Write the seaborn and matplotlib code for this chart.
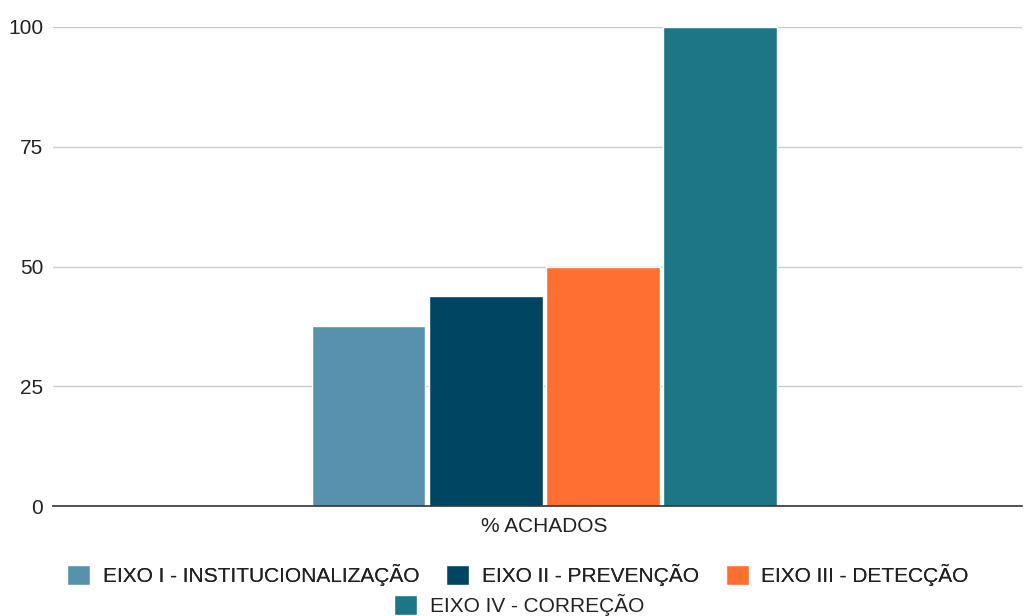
import pandas as pd
import seaborn as sns
import matplotlib.pyplot as plt

# data
grupo = "% ACHADOS"
eixos = ["EIXO I - INSTITUCIONALIZAÇÃO", "EIXO II - PREVENÇÃO",
         "EIXO III - DETECÇÃO", "EIXO IV - CORREÇÃO"]
valores = [37.5, 43.75, 50, 100]
cores = ["#5891ad", "#004561", "#ff6f31", "#1c7685"]
yticks = [0, 25, 50, 75, 100]

data = pd.DataFrame({"grupo": [grupo] * len(eixos), "eixo": eixos, "valor": valores})

sns.set_style("white")
plt.rcParams["font.family"] = ["Liberation Sans", "DejaVu Sans"]

fig = plt.figure(figsize=(10.25, 6.16), dpi=100)
ax = fig.add_axes([53 / 1025, 1 - 506 / 616, 969 / 1025, 479 / 616])

sns.barplot(data=data, x="grupo", y="valor", hue="eixo", palette=cores,
            width=0.484, gap=0.03, saturation=1, ax=ax, legend=True)

ax.set_ylim(0, 100)
ax.set_yticks(yticks)
ax.set_xlim(-0.507, 0.493)
ax.grid(axis="y", color="#cccccc", linewidth=1)
ax.set_axisbelow(True)
for s in ["top", "right", "left"]:
    ax.spines[s].set_visible(False)
ax.spines["bottom"].set_color("#333333")
ax.spines["bottom"].set_linewidth(1.2)
ax.tick_params(axis="y", length=0, labelsize=15, colors="#222222", pad=7)
ax.tick_params(axis="x", length=0, labelsize=15, colors="#222222", pad=8)
ax.set_xlabel("")
ax.set_ylabel("")

# legend: three entries on the first row, the fourth centred below
handles, labels = ax.get_legend_handles_labels()
ax.get_legend().remove()
opts = dict(loc="center", frameon=False, fontsize=15, handlelength=1.1,
            handleheight=1.1, handletextpad=0.6, columnspacing=1.3,
            labelcolor="#222222", borderpad=0)
leg1 = fig.legend(handles[:3], labels[:3], ncol=3,
                  bbox_to_anchor=(518 / 1025, 1 - 575 / 616), **opts)
fig.add_artist(leg1)
fig.legend(handles[3:], labels[3:], ncol=1,
           bbox_to_anchor=(519 / 1025, 1 - 605 / 616), **opts)

fig.savefig("out.png", dpi=100)
